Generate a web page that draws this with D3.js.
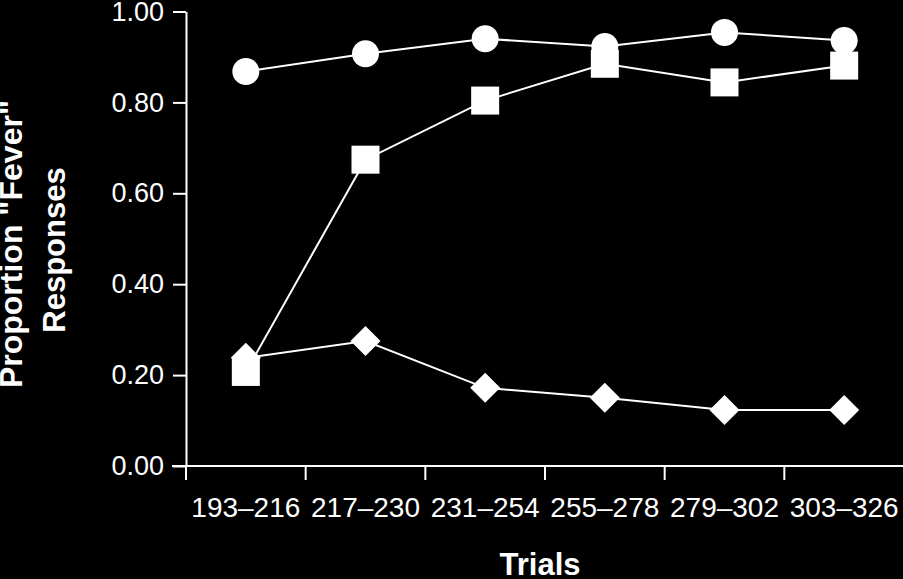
<!DOCTYPE html>
<html>
<head>
<meta charset="utf-8">
<script src="https://cdn.jsdelivr.net/npm/d3@7"></script>
<style>
  html, body { margin: 0; padding: 0; background: #000; }
  svg { display: block; }
  text { font-family: "Liberation Sans", Arial, Helvetica, sans-serif; fill: #fff; }
</style>
</head>
<body>
<svg id="chart" width="903" height="579"></svg>
<script>
const categories = ["193\u2013216", "217\u2013230", "231\u2013254", "255\u2013278", "279\u2013302", "303\u2013326"];
const circleValues = [0.868, 0.907, 0.940, 0.923, 0.954, 0.936];
const squareValues = [0.207, 0.674, 0.804, 0.885, 0.844, 0.881];
const diamondValues = [0.238, 0.275, 0.172, 0.150, 0.123, 0.123];
const yTicks = [0, 0.2, 0.4, 0.6, 0.8, 1.0];

const svg = d3.select("#chart");
const W = 903, H = 579;
svg.append("rect").attr("width", W).attr("height", H).attr("fill", "#000");

const x = d3.scaleBand().domain(categories).range([186, 904]).padding(0);
const y = d3.scaleLinear().domain([0, 1]).range([466, 11.5]);

// Y axis
const yAxis = d3.axisLeft(y).tickValues(yTicks).tickFormat(d3.format(".2f"))
  .tickSize(13).tickSizeOuter(0).tickPadding(9);
const gy = svg.append("g").attr("transform", "translate(186,0)").call(yAxis);
gy.select(".domain").attr("stroke", "#fff").attr("stroke-width", 2);
gy.selectAll(".tick line").attr("stroke", "#fff").attr("stroke-width", 2);
gy.selectAll(".tick text").attr("fill", "#fff").style("font-size", "27px")
  .style("font-family", '"Liberation Sans", Arial, sans-serif');

// X axis
const xAxis = d3.axisBottom(x).tickSize(0).tickSizeOuter(0).tickPadding(31);
const gx = svg.append("g").attr("transform", "translate(0,466)").call(xAxis);
gx.select(".domain").remove();
gx.selectAll(".tick text").attr("fill", "#fff").style("font-size", "28px")
  .style("font-family", '"Liberation Sans", Arial, sans-serif');
svg.append("line").attr("x1", 172).attr("x2", 904).attr("y1", 466).attr("y2", 466)
  .attr("stroke", "#fff").attr("stroke-width", 2);
const boundaries = categories.map(c => x(c)).concat([x.range()[1]]);
svg.append("g").selectAll("line").data(boundaries).join("line")
  .attr("x1", d => d).attr("x2", d => d).attr("y1", 466).attr("y2", 480)
  .attr("stroke", "#fff").attr("stroke-width", 2);

// Axis titles
svg.append("text").attr("x", 540).attr("y", 575).attr("text-anchor", "middle")
  .style("font-size", "31px").style("font-weight", "bold").text("Trials");
const yl = svg.append("text").attr("transform", "translate(0,252) rotate(-90)")
  .attr("text-anchor", "middle").style("font-weight", "bold");
yl.append("tspan").attr("x", 8).attr("y", 22).style("font-size", "32px").text('Proportion "Fever"');
yl.append("tspan").attr("x", 2).attr("y", 65).style("font-size", "31px").text("Responses");

const cx = c => x(c) + x.bandwidth() / 2;
const line = d3.line().x(d => cx(d[0])).y(d => y(d[1]));
const series = [
  { vals: circleValues, shape: "circle" },
  { vals: squareValues, shape: "square" },
  { vals: diamondValues, shape: "diamond" }
];
series.forEach(s => {
  const pts = categories.map((c, i) => [c, s.vals[i]]);
  svg.append("path").datum(pts).attr("d", line).attr("fill", "none")
    .attr("stroke", "#fff").attr("stroke-width", 2);
});
series.forEach(s => {
  const pts = categories.map((c, i) => [c, s.vals[i]]);
  const g = svg.append("g");
  if (s.shape === "circle") {
    g.selectAll("circle").data(pts).join("circle")
      .attr("cx", d => cx(d[0])).attr("cy", d => y(d[1])).attr("r", 13.5).attr("fill", "#fff");
  } else if (s.shape === "square") {
    g.selectAll("rect").data(pts).join("rect")
      .attr("x", d => cx(d[0]) - 14).attr("y", d => y(d[1]) - 14)
      .attr("width", 28).attr("height", 28).attr("fill", "#fff");
  } else {
    g.selectAll("path").data(pts).join("path")
      .attr("transform", d => `translate(${cx(d[0])},${y(d[1])})`)
      .attr("d", "M0,-15L15,0L0,15L-15,0Z").attr("fill", "#fff");
  }
});
</script>
</body>
</html>
